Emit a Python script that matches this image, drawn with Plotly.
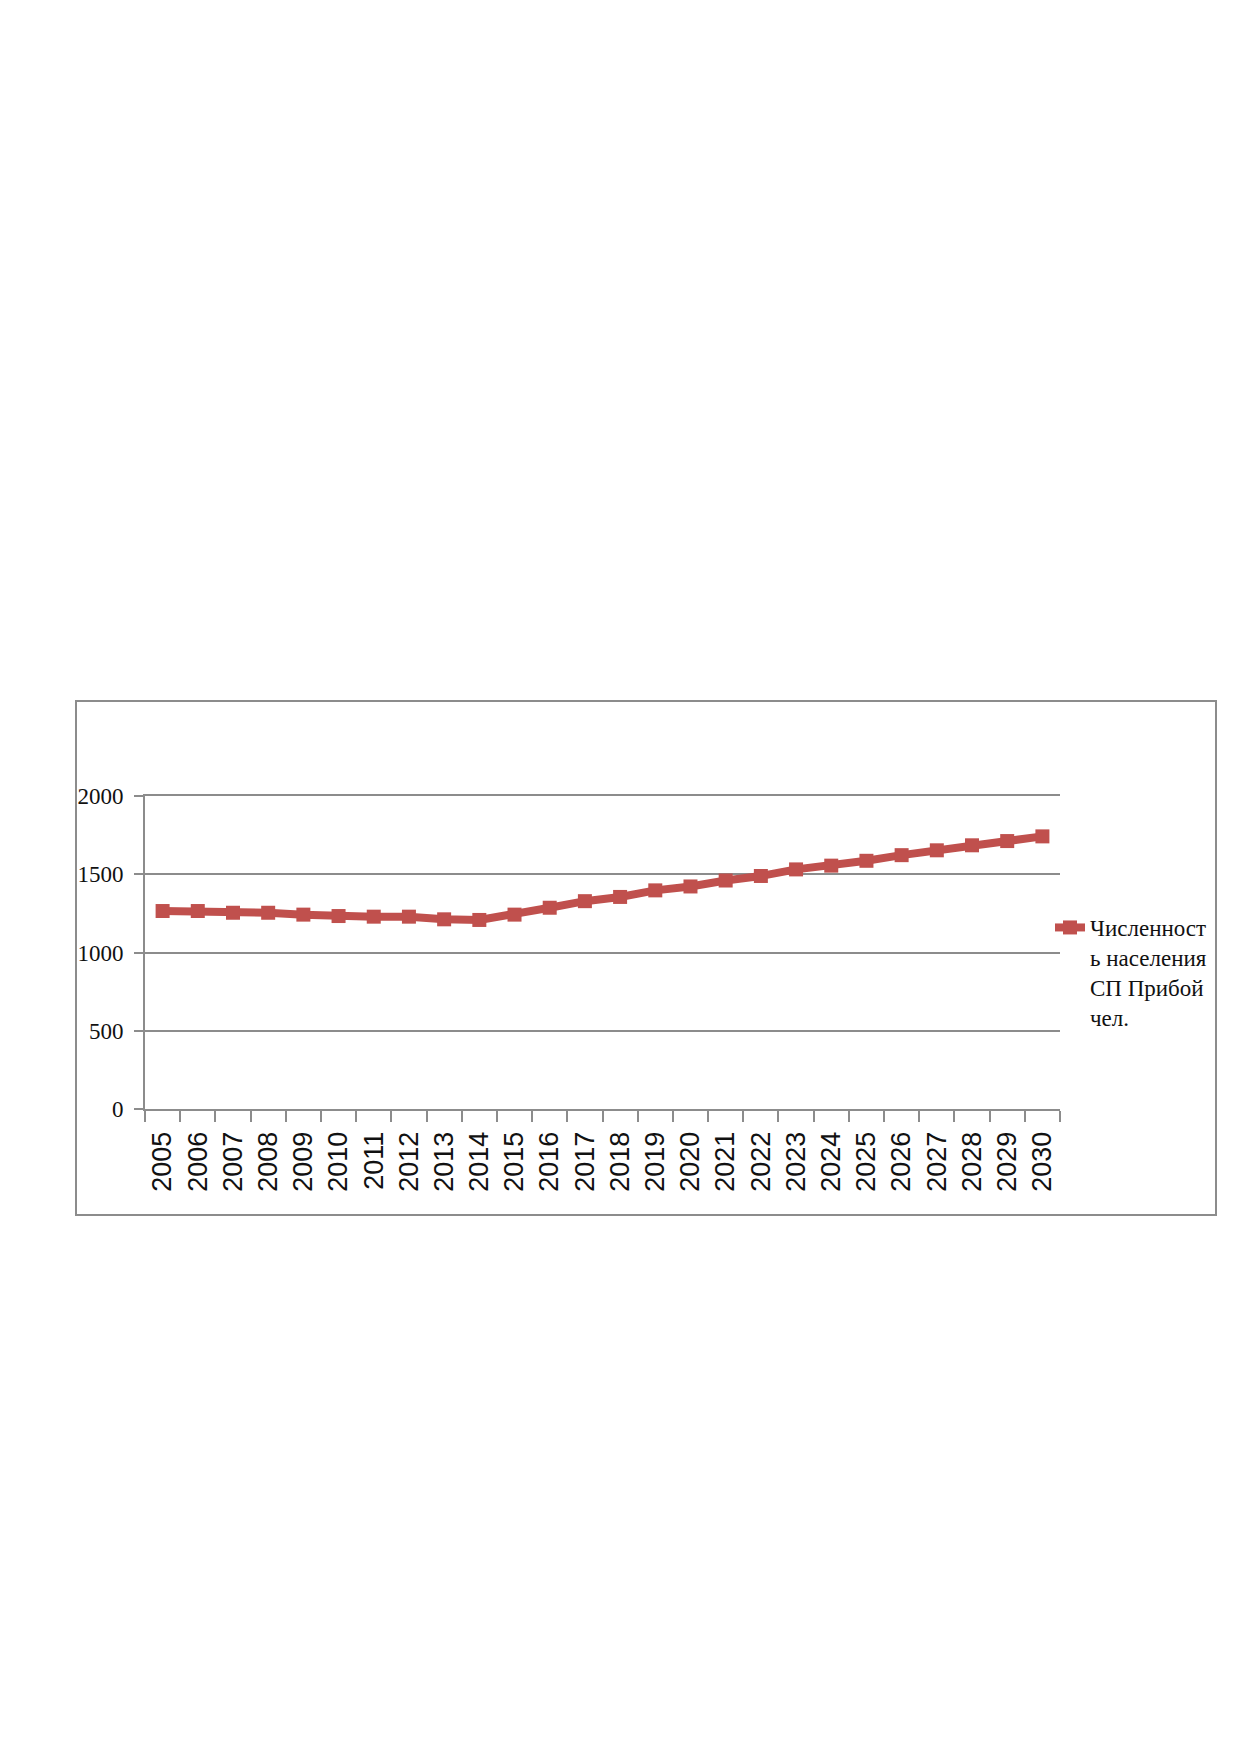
import plotly.graph_objects as go

# population of SP Priboy, people
years = [str(y) for y in range(2005, 2031)]
population = [1265, 1265, 1254, 1254, 1242, 1233, 1229, 1229, 1212, 1208,
              1242, 1286, 1328, 1355, 1397, 1422, 1460, 1489, 1531, 1555,
              1586, 1622, 1653, 1685, 1712, 1742]
series_name = 'Численност<br>ь населения<br>СП Прибой<br>чел.'
y_ticks = [0, 500, 1000, 1500, 2000]

W, H = 1239, 1754
# plot area in pixels
left, right, top, bottom = 137, 1052, 788, 1101
frame = dict(x0=68, x1=1208, y0=693, y1=1207)

line_col = '#C0504D'
grid_col = '#8C8C8C'


def px_to_paper_x(px):
    return (px - left) / (right - left)


def px_to_paper_y(px):
    return (bottom - px) / (bottom - top)


fig = go.Figure()
fig.add_trace(go.Scatter(
    x=years, y=population, name=series_name,
    mode='lines+markers',
    line=dict(color=line_col, width=8),
    marker=dict(symbol='square', size=14, color=line_col),
))

fig.update_layout(
    width=W, height=H,
    margin=dict(l=left, r=W - right, t=top, b=H - bottom, pad=0),
    paper_bgcolor='white', plot_bgcolor='white',
    showlegend=True,
    legend=dict(x=px_to_paper_x(1042), y=px_to_paper_y(898),
                xanchor='left', yanchor='top', valign='top',
                font=dict(family='Liberation Serif', size=23, color='#111'),
                bgcolor='rgba(0,0,0,0)'),
    xaxis=dict(type='category', range=[-0.5, 25.5],
               tickson='boundaries', ticks='outside', ticklen=11,
               tickwidth=2, tickcolor=grid_col,
               showline=True, mirror=True, linecolor=grid_col, linewidth=2,
               showgrid=False, tickangle=-90,
               ticklabelstandoff=10,
               tickfont=dict(family='Liberation Sans', size=27, color='#111')),
    yaxis=dict(range=[0, 2000], tickvals=y_ticks,
               ticks='outside', ticklen=9, tickwidth=2, tickcolor=grid_col,
               showline=True, linecolor=grid_col, linewidth=2,
               showgrid=True, gridcolor=grid_col, gridwidth=2,
               zeroline=False, ticklabelstandoff=6,
               tickfont=dict(family='Liberation Serif', size=23, color='#111')),
)

# outer chart frame
fig.add_shape(type='rect', xref='paper', yref='paper',
              x0=px_to_paper_x(frame['x0']), x1=px_to_paper_x(frame['x1']),
              y0=px_to_paper_y(frame['y1']), y1=px_to_paper_y(frame['y0']),
              line=dict(color=grid_col, width=2), layer='below')

fig.write_html('out.html')
